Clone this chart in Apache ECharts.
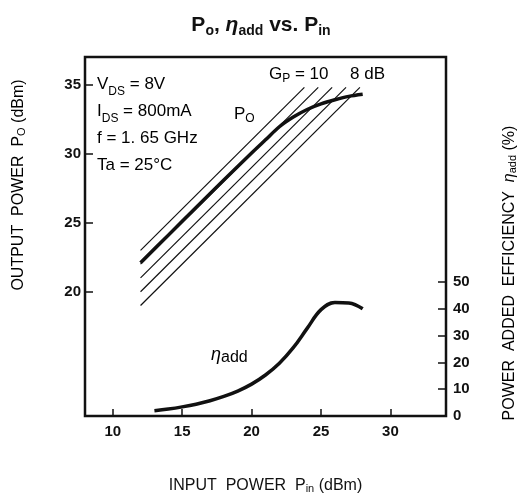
<!DOCTYPE html>
<html>
<head>
<meta charset="utf-8">
<style>
  html, body { margin: 0; padding: 0; background: #fff; }
  #chart { width: 522px; height: 499px; }
</style>
<script src="https://cdn.jsdelivr.net/npm/echarts@6/dist/echarts.min.js"></script>
</head>
<body>
<div id="chart"></div>
<script>
// Po vs Pin (dBm)
const pinPo = [12, 14, 16, 18, 20, 21, 22, 23, 24, 25, 26, 27, 28];
const po = [22.1, 24.1, 26.1, 28.1, 30.05, 31.0, 31.95, 32.65, 33.2, 33.6, 33.9, 34.15, 34.3];

// power added efficiency (%) vs Pin
const pinEff = [13, 14, 15, 16, 17, 18, 19, 20, 21, 22, 23, 24, 25, 26, 27, 28];
const eff = [2.0, 2.6, 3.4, 4.4, 5.7, 7.3, 9.3, 11.9, 15.3, 19.7, 25.5, 32.7, 39.7, 42.4, 42.2, 40.0];

// constant gain lines Po = Pin + Gp
const gainValues = [11, 10, 9, 8, 7];
const gainPinStart = [12, 12, 12, 12, 12];
const gainPinEnd = [23.8, 24.8, 25.8, 26.8, 27.8];

const xTicks = [10, 15, 20, 25, 30];
const yTicks = [20, 25, 30, 35];
const effTicks = [0, 10, 20, 30, 40, 50];

const FONT = '"Liberation Sans", "DejaVu Sans", sans-serif';
const INK = '#111';
const sub = { fontSize: 12, verticalAlign: 'bottom', lineHeight: 15, fontFamily: FONT, color: INK };
const main = { fontSize: 17, lineHeight: 21, fontFamily: FONT, color: INK };
const nameMain = { fontSize: 16, fontFamily: FONT, color: INK };
const nameSub = { fontSize: 11, verticalAlign: 'bottom', lineHeight: 13, fontFamily: FONT, color: INK };

const chart = echarts.init(document.getElementById('chart'));

const gainSeries = gainValues.map(function (g, i) {
  return {
    type: 'line',
    silent: true,
    symbol: 'none',
    lineStyle: { color: INK, width: 1.2 },
    data: [[gainPinStart[i], gainPinStart[i] + g], [gainPinEnd[i], gainPinEnd[i] + g]]
  };
});

function zip(xs, ys) {
  return xs.map(function (x, i) { return [x, ys[i]]; });
}

chart.setOption({
  animation: false,
  backgroundColor: '#fff',
  title: {
    text: '{m|P}{s|o}{m|, }{e|η}{s|add}{m| vs. P}{s|in}',
    left: 'center',
    top: 8,
    textStyle: {
      rich: {
        m: { fontSize: 21, fontWeight: 'bold', lineHeight: 25, fontFamily: FONT, color: INK },
        e: { fontSize: 21, fontStyle: 'italic', lineHeight: 25, fontFamily: FONT, color: INK },
        s: { fontSize: 14, fontWeight: 'bold', verticalAlign: 'bottom', lineHeight: 17, fontFamily: FONT, color: INK }
      }
    }
  },
  grid: {
    left: 85, right: 76, top: 57, bottom: 82,
    show: true, borderColor: INK, borderWidth: 2.5
  },
  xAxis: {
    type: 'value',
    min: 8, max: 34,
    name: '{m|INPUT  POWER  P}{s|in}{m| (dBm)}',
    nameLocation: 'middle',
    nameGap: 62,
    nameTextStyle: { rich: { m: nameMain, s: nameSub } },
    axisLine: { show: false },
    splitLine: { show: false },
    axisTick: { inside: true, length: 7, lineStyle: { color: INK, width: 1.5 }, customValues: xTicks },
    axisLabel: { customValues: xTicks, fontSize: 15, fontWeight: 'bold', color: INK, fontFamily: FONT, margin: 8 }
  },
  yAxis: [{
    type: 'value',
    min: 11, max: 37,
    axisLine: { show: false },
    splitLine: { show: false },
    axisTick: { inside: true, length: 8, lineStyle: { color: INK, width: 1.5 }, customValues: yTicks },
    axisLabel: { customValues: yTicks, fontSize: 15, fontWeight: 'bold', color: INK, fontFamily: FONT, margin: 4 }
  }, {
    type: 'value',
    position: 'right',
    min: 0, max: 134,
    axisLine: { show: false },
    splitLine: { show: false },
    axisTick: { inside: true, length: 8, lineStyle: { color: INK, width: 1.5 }, customValues: effTicks.slice(1) },
    axisLabel: { customValues: effTicks, fontSize: 15, fontWeight: 'bold', color: INK, fontFamily: FONT, margin: 7 }
  }],
  series: gainSeries.concat([{
    type: 'line',
    name: 'Po',
    symbol: 'none',
    smooth: 0.3,
    lineStyle: { color: INK, width: 3.5 },
    data: zip(pinPo, po)
  }, {
    type: 'line',
    name: 'ηadd',
    yAxisIndex: 1,
    symbol: 'none',
    smooth: 0.4,
    lineStyle: { color: INK, width: 3.5 },
    data: zip(pinEff, eff)
  }]),
  graphic: [{
    type: 'text', x: 97, y: 71,
    style: {
      text: '{m|V}{s|DS}{m| = 8V}\n{m|I}{s|DS}{m| = 800mA}\n{m|f = 1. 65 GHz}\n{m|Ta = 25°C}',
      rich: {
        m: { fontSize: 17, lineHeight: 27, fontFamily: FONT, color: INK },
        s: { fontSize: 12, verticalAlign: 'bottom', lineHeight: 21, fontFamily: FONT, color: INK }
      }
    }
  }, {
    type: 'text', x: 234, y: 104,
    style: { text: '{m|P}{s|O}', rich: { m: main, s: sub } }
  }, {
    type: 'text', x: 269, y: 64,
    style: { text: '{m|G}{s|P}{m| = 10}', rich: { m: main, s: sub } }
  }, {
    type: 'text', x: 350, y: 64,
    style: { text: '{m|8 dB}', rich: { m: main } }
  }, {
    type: 'text', x: 211, y: 346,
    style: {
      text: '{e|η}{m|add}',
      rich: {
        e: { fontSize: 18, fontStyle: 'italic', lineHeight: 20, fontFamily: FONT, color: INK, verticalAlign: 'top' },
        m: { fontSize: 16, lineHeight: 18, fontFamily: FONT, color: INK, verticalAlign: 'bottom' }
      }
    }
  }, {
    type: 'text', x: 19, y: 185, rotation: Math.PI / 2,
    style: {
      text: '{m|OUTPUT  POWER  P}{s|O}{m| (dBm)}',
      align: 'center', verticalAlign: 'middle',
      rich: { m: nameMain, s: nameSub }
    }
  }, {
    type: 'text', x: 510, y: 273, rotation: Math.PI / 2,
    style: {
      text: '{m|POWER  ADDED  EFFICIENCY  }{e|η}{s|add}{m| (%)}',
      align: 'center', verticalAlign: 'middle',
      rich: {
        m: nameMain,
        e: { fontSize: 16, fontStyle: 'italic', fontFamily: FONT, color: INK },
        s: nameSub
      }
    }
  }]
});
</script>
</body>
</html>
